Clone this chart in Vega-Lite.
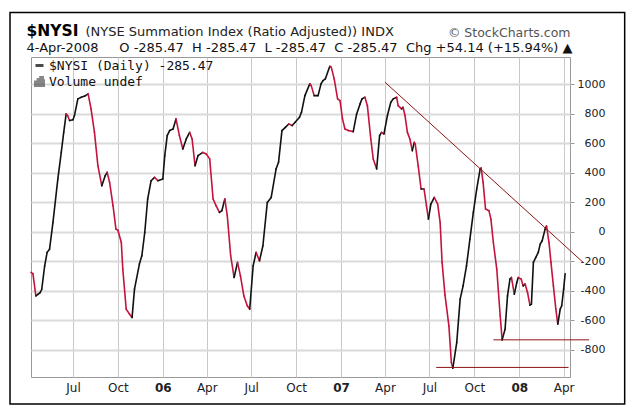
{
  "$schema": "https://vega.github.io/schema/vega-lite/v6.json",
  "width": 539,
  "height": 320,
  "autosize": {"type": "none"},
  "padding": {"left": 31, "top": 57, "right": 69, "bottom": 31},
  "background": "white",
  "config": {
    "view": {"stroke": "#999999", "strokeWidth": 1},
    "font": "DejaVu Sans",
    "axis": {"labelFont": "DejaVu Sans", "titleFont": "DejaVu Sans"}
  },
  "resolve": {"axis": {"x": "independent", "y": "independent"}},
  "layer": [
    {
      "data": {"values": [{}]},
      "mark": {"type": "rect", "fill": "transparent", "stroke": "black", "strokeWidth": 1.5},
      "encoding": {
        "x": {"datum": {"year": 2005, "month": 2, "date": 22, "utc": true}, "type": "temporal", "axis": null},
        "x2": {"datum": {"year": 2008, "month": 8, "date": 4, "utc": true}},
        "y": {"datum": 1487, "type": "quantitative", "axis": null},
        "y2": {"datum": -1168}
      }
    },
    {
      "data": {
        "format": {"parse": {"date": "date"}},
        "values": [
          {"date": "2005-04-06", "v": -276}, {"date": "2005-04-10", "v": -285}, {"date": "2005-04-16", "v": -435},
          {"date": "2005-04-20", "v": -425}, {"date": "2005-04-25", "v": -412}, {"date": "2005-04-28", "v": -390},
          {"date": "2005-05-04", "v": -231}, {"date": "2005-05-09", "v": -140}, {"date": "2005-05-14", "v": -118},
          {"date": "2005-05-21", "v": 63}, {"date": "2005-05-31", "v": 358}, {"date": "2005-06-07", "v": 538},
          {"date": "2005-06-12", "v": 674}, {"date": "2005-06-17", "v": 799}, {"date": "2005-06-20", "v": 788},
          {"date": "2005-06-24", "v": 754}, {"date": "2005-07-01", "v": 760}, {"date": "2005-07-04", "v": 788},
          {"date": "2005-07-11", "v": 901}, {"date": "2005-07-18", "v": 912}, {"date": "2005-07-25", "v": 920},
          {"date": "2005-08-01", "v": 935}, {"date": "2005-08-07", "v": 833}, {"date": "2005-08-14", "v": 674},
          {"date": "2005-08-21", "v": 448}, {"date": "2005-08-29", "v": 312}, {"date": "2005-09-05", "v": 380},
          {"date": "2005-09-09", "v": 403}, {"date": "2005-09-14", "v": 335}, {"date": "2005-09-21", "v": 177},
          {"date": "2005-09-27", "v": 18}, {"date": "2005-10-01", "v": 10}, {"date": "2005-10-08", "v": -73},
          {"date": "2005-10-11", "v": -253}, {"date": "2005-10-18", "v": -525}, {"date": "2005-10-25", "v": -559},
          {"date": "2005-10-30", "v": -582}, {"date": "2005-11-04", "v": -389}, {"date": "2005-11-14", "v": -219},
          {"date": "2005-11-19", "v": -163}, {"date": "2005-11-25", "v": -5}, {"date": "2005-12-01", "v": 222},
          {"date": "2005-12-08", "v": 346}, {"date": "2005-12-15", "v": 369}, {"date": "2005-12-22", "v": 346},
          {"date": "2006-01-01", "v": 358}, {"date": "2006-01-05", "v": 516}, {"date": "2006-01-10", "v": 652},
          {"date": "2006-01-15", "v": 686}, {"date": "2006-01-22", "v": 697}, {"date": "2006-01-28", "v": 765},
          {"date": "2006-02-04", "v": 652}, {"date": "2006-02-11", "v": 561}, {"date": "2006-02-18", "v": 629},
          {"date": "2006-02-25", "v": 674}, {"date": "2006-03-02", "v": 629}, {"date": "2006-03-08", "v": 448},
          {"date": "2006-03-14", "v": 516}, {"date": "2006-03-24", "v": 538}, {"date": "2006-03-31", "v": 527},
          {"date": "2006-04-07", "v": 494}, {"date": "2006-04-14", "v": 222}, {"date": "2006-04-20", "v": 177},
          {"date": "2006-04-27", "v": 131}, {"date": "2006-05-02", "v": 143}, {"date": "2006-05-08", "v": 222},
          {"date": "2006-05-13", "v": 109}, {"date": "2006-05-20", "v": -163}, {"date": "2006-05-27", "v": -310},
          {"date": "2006-06-03", "v": -208}, {"date": "2006-06-09", "v": -299}, {"date": "2006-06-16", "v": -435},
          {"date": "2006-06-23", "v": -502}, {"date": "2006-06-28", "v": -525}, {"date": "2006-07-05", "v": -231},
          {"date": "2006-07-11", "v": -140}, {"date": "2006-07-18", "v": -197}, {"date": "2006-07-25", "v": -95},
          {"date": "2006-08-03", "v": 199}, {"date": "2006-08-11", "v": 233}, {"date": "2006-08-21", "v": 426},
          {"date": "2006-08-26", "v": 471}, {"date": "2006-09-02", "v": 686}, {"date": "2006-09-09", "v": 708},
          {"date": "2006-09-16", "v": 731}, {"date": "2006-09-23", "v": 720}, {"date": "2006-09-29", "v": 742},
          {"date": "2006-10-08", "v": 776}, {"date": "2006-10-12", "v": 810}, {"date": "2006-10-19", "v": 923},
          {"date": "2006-10-29", "v": 1003}, {"date": "2006-11-01", "v": 991}, {"date": "2006-11-07", "v": 923},
          {"date": "2006-11-15", "v": 923}, {"date": "2006-11-21", "v": 1003}, {"date": "2006-11-25", "v": 1025},
          {"date": "2006-11-30", "v": 1037}, {"date": "2006-12-09", "v": 1122}, {"date": "2006-12-12", "v": 1116},
          {"date": "2006-12-18", "v": 1037}, {"date": "2006-12-25", "v": 901}, {"date": "2006-12-30", "v": 889},
          {"date": "2007-01-04", "v": 765}, {"date": "2007-01-09", "v": 697}, {"date": "2007-01-16", "v": 686},
          {"date": "2007-01-26", "v": 679}, {"date": "2007-02-02", "v": 799}, {"date": "2007-02-09", "v": 867},
          {"date": "2007-02-13", "v": 901}, {"date": "2007-02-19", "v": 912}, {"date": "2007-02-24", "v": 855},
          {"date": "2007-03-03", "v": 629}, {"date": "2007-03-08", "v": 494}, {"date": "2007-03-15", "v": 426},
          {"date": "2007-03-21", "v": 652}, {"date": "2007-03-25", "v": 674}, {"date": "2007-03-30", "v": 663},
          {"date": "2007-04-06", "v": 788}, {"date": "2007-04-13", "v": 878}, {"date": "2007-04-18", "v": 901},
          {"date": "2007-04-25", "v": 912}, {"date": "2007-04-28", "v": 855}, {"date": "2007-05-05", "v": 833},
          {"date": "2007-05-08", "v": 844}, {"date": "2007-05-12", "v": 788}, {"date": "2007-05-17", "v": 674},
          {"date": "2007-05-22", "v": 629}, {"date": "2007-05-27", "v": 550}, {"date": "2007-05-31", "v": 606},
          {"date": "2007-06-02", "v": 595}, {"date": "2007-06-08", "v": 448}, {"date": "2007-06-14", "v": 290},
          {"date": "2007-06-20", "v": 290}, {"date": "2007-06-25", "v": 177}, {"date": "2007-06-29", "v": 86},
          {"date": "2007-07-04", "v": 188}, {"date": "2007-07-11", "v": 233}, {"date": "2007-07-18", "v": 188},
          {"date": "2007-07-23", "v": 63}, {"date": "2007-07-27", "v": -208}, {"date": "2007-08-02", "v": -430},
          {"date": "2007-08-10", "v": -640}, {"date": "2007-08-15", "v": -887}, {"date": "2007-08-18", "v": -925},
          {"date": "2007-08-26", "v": -752}, {"date": "2007-09-02", "v": -457}, {"date": "2007-09-08", "v": -367},
          {"date": "2007-09-15", "v": -231}, {"date": "2007-09-22", "v": -50}, {"date": "2007-09-29", "v": 131},
          {"date": "2007-10-06", "v": 290}, {"date": "2007-10-13", "v": 426}, {"date": "2007-10-15", "v": 432},
          {"date": "2007-10-19", "v": 335}, {"date": "2007-10-24", "v": 154}, {"date": "2007-10-31", "v": 143},
          {"date": "2007-11-04", "v": 86}, {"date": "2007-11-09", "v": -73}, {"date": "2007-11-16", "v": -253},
          {"date": "2007-11-23", "v": -570}, {"date": "2007-11-27", "v": -733}, {"date": "2007-12-03", "v": -661},
          {"date": "2007-12-08", "v": -435}, {"date": "2007-12-13", "v": -321}, {"date": "2007-12-16", "v": -310},
          {"date": "2007-12-22", "v": -423}, {"date": "2007-12-27", "v": -344}, {"date": "2007-12-30", "v": -310},
          {"date": "2008-01-05", "v": -321}, {"date": "2008-01-09", "v": -367}, {"date": "2008-01-13", "v": -355},
          {"date": "2008-01-18", "v": -412}, {"date": "2008-01-23", "v": -498}, {"date": "2008-01-26", "v": -491},
          {"date": "2008-01-30", "v": -208}, {"date": "2008-02-04", "v": -174}, {"date": "2008-02-09", "v": -140},
          {"date": "2008-02-13", "v": -84}, {"date": "2008-02-17", "v": -61}, {"date": "2008-02-23", "v": 18},
          {"date": "2008-02-26", "v": 38}, {"date": "2008-03-02", "v": -73}, {"date": "2008-03-06", "v": -208},
          {"date": "2008-03-11", "v": -367}, {"date": "2008-03-16", "v": -525}, {"date": "2008-03-20", "v": -627},
          {"date": "2008-03-25", "v": -525}, {"date": "2008-03-28", "v": -502}, {"date": "2008-04-01", "v": -389},
          {"date": "2008-04-04", "v": -285}
        ]
      },
      "transform": [
        {"window": [{"op": "lead", "field": "date", "as": "date2"}, {"op": "lead", "field": "v", "as": "v2"}], "sort": [{"field": "date", "order": "ascending"}]},
        {"filter": "isValid(datum.v2)"}
      ],
      "mark": {"type": "rule", "strokeWidth": 1.6, "strokeCap": "round"},
      "encoding": {
        "x": {
          "field": "date", "type": "temporal",
          "scale": {"type": "utc", "domain": [{"year": 2005, "month": 4, "date": 6, "utc": true}, {"year": 2008, "month": 4, "date": 14, "utc": true}]},
          "axis": {
            "orient": "bottom",
            "values": [
              {"year": 2005, "month": 7, "date": 1, "utc": true}, {"year": 2005, "month": 10, "date": 1, "utc": true},
              {"year": 2006, "month": 1, "date": 1, "utc": true}, {"year": 2006, "month": 4, "date": 1, "utc": true},
              {"year": 2006, "month": 7, "date": 1, "utc": true}, {"year": 2006, "month": 10, "date": 1, "utc": true},
              {"year": 2007, "month": 1, "date": 1, "utc": true}, {"year": 2007, "month": 4, "date": 1, "utc": true},
              {"year": 2007, "month": 7, "date": 1, "utc": true}, {"year": 2007, "month": 10, "date": 1, "utc": true},
              {"year": 2008, "month": 1, "date": 1, "utc": true}, {"year": 2008, "month": 4, "date": 1, "utc": true}
            ],
            "labelExpr": "utcmonth(datum.value) == 0 ? utcFormat(datum.value, '%y') : utcFormat(datum.value, '%b')",
            "labelFontWeight": {"condition": {"test": "utcmonth(datum.value) == 0", "value": "bold"}, "value": "normal"},
            "labelOverlap": false,
            "labelFontSize": 12,
            "labelColor": "#222222",
            "labelPadding": 5,
            "ticks": false,
            "domain": false,
            "grid": true,
            "gridColor": "#c8c8c8",
            "gridWidth": 1,
            "title": "$NYSI",
            "titleFontSize": 15.5,
            "titleFontWeight": "bold",
            "titleColor": "black",
            "titleAnchor": "start",
            "titleAlign": "left",
            "titleBaseline": "alphabetic",
            "titleX": -5,
            "titleY": -342
          }
        },
        "x2": {"field": "date2"},
        "y": {
          "field": "v", "type": "quantitative",
          "scale": {"domain": [-985, 1185], "nice": false, "zero": false},
          "axis": {
            "orient": "right",
            "values": [-800, -600, -400, -200, 0, 200, 400, 600, 800, 1000],
            "labelExpr": "datum.value + ''",
            "labelAlign": "right",
            "labelPadding": 31,
            "labelFontSize": 11,
            "labelColor": "#222222",
            "tickSize": 4,
            "tickColor": "#999999",
            "domain": false,
            "grid": true,
            "gridColor": "#dadada",
            "gridWidth": 2,
            "title": "© StockCharts.com",
            "titleAngle": 0,
            "titleFontSize": 12.5,
            "titleFontWeight": "normal",
            "titleColor": "#555555",
            "titleAlign": "right",
            "titleBaseline": "alphabetic",
            "titleX": 0,
            "titleY": -21
          }
        },
        "y2": {"field": "v2"},
        "color": {"condition": {"test": "datum.v2 < datum.v", "value": "#c4143e"}, "value": "#111111"}
      }
    },
    {
      "data": {
        "format": {"parse": {"d1": "date", "d2": "date"}},
        "values": [
          {"d1": "2007-04-01", "v1": 1014, "d2": "2008-05-11", "v2": -208},
          {"d1": "2007-07-15", "v1": -920, "d2": "2008-04-11", "v2": -920},
          {"d1": "2007-11-09", "v1": -733, "d2": "2008-05-23", "v2": -733}
        ]
      },
      "mark": {"type": "rule", "color": "#8b1414", "strokeWidth": 1},
      "encoding": {
        "x": {
          "field": "d1", "type": "temporal",
          "axis": {
            "orient": "top", "labels": false, "ticks": false, "domain": false, "grid": false,
            "title": "(NYSE Summation Index (Ratio Adjusted)) INDX",
            "titleFontSize": 13, "titleFontWeight": "normal", "titleColor": "#222222",
            "titleAnchor": "start", "titleAlign": "left", "titleBaseline": "alphabetic",
            "titleX": 54, "titleY": -22
          }
        },
        "x2": {"field": "d2"},
        "y": {
          "field": "v1", "type": "quantitative",
          "axis": {
            "orient": "left", "labels": false, "ticks": false, "domain": false, "grid": false,
            "title": "4-Apr-2008\u00a0\u00a0\u00a0\u00a0\u00a0O -285.47\u00a0\u00a0H -285.47\u00a0\u00a0L -285.47\u00a0\u00a0C -285.47\u00a0\u00a0Chg +54.14 (+15.94%) ▲",
            "titleAngle": 0, "titleFontSize": 13, "titleFontWeight": "normal", "titleColor": "#111111",
            "titleAlign": "left", "titleBaseline": "alphabetic",
            "titleX": -5, "titleY": -6
          }
        },
        "y2": {"field": "v2"}
      }
    },
    {
      "data": {"values": [{"series": "$NYSI (Daily) -285.47"}, {"series": "Volume undef"}]},
      "transform": [{"filter": "datum.series == null"}],
      "mark": {"type": "point", "filled": false},
      "encoding": {
        "color": {
          "field": "series", "type": "nominal",
          "scale": {"domain": ["$NYSI (Daily) -285.47", "Volume undef"], "range": ["#000000", "#555555"]},
          "legend": {
            "title": null,
            "orient": "top-left",
            "offset": 1,
            "padding": 1,
            "rowPadding": -2,
            "labelOffset": 3,
            "labelLimit": 300,
            "labelFont": "DejaVu Sans Mono",
            "labelFontSize": 13,
            "symbolSize": 64,
            "symbolStrokeWidth": 3,
            "labelColor": "#111111",
            "encode": {
              "symbols": {"update": {
                "fill": {"signal": "datum.label === 'Volume undef' ? '#555555' : 'transparent'"},
                "strokeWidth": {"signal": "datum.label === 'Volume undef' ? 0.5 : 3"}
              }}
            }
          }
        },
        "shape": {
          "field": "series", "type": "nominal",
          "scale": {"domain": ["$NYSI (Daily) -285.47", "Volume undef"], "range": ["stroke", "M-1,1V0.1H-0.55V1ZM-0.35,1V-0.5H0.1V1ZM0.3,1V-1H0.75V1ZM0.85,1V-0.2H1V1Z"]},
          "legend": null
        }
      }
    }
  ]
}
